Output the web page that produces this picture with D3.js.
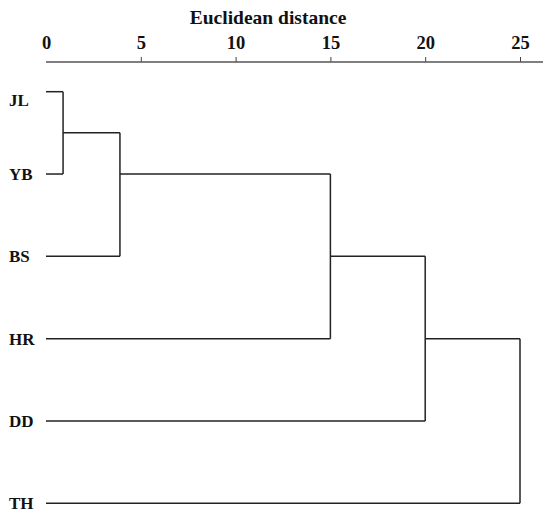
<!DOCTYPE html>
<html>
<head>
<meta charset="utf-8">
<script src="https://cdn.jsdelivr.net/npm/d3@7"></script>
<style>
  body { margin: 0; background: #fff; }
  text { font-family: "Liberation Serif", "Times New Roman", serif; font-weight: bold; fill: #111; }
</style>
</head>
<body>
<div id="wrapper"></div>
<script>
// leaves, top to bottom
const leafLabels = ["JL", "YB", "BS", "HR", "DD", "TH"];
// agglomeration schedule: node ids 0-5 are leaves, 6+ are the clusters made by each step
const mergeLeft = [0, 6, 7, 8, 9];
const mergeRight = [1, 2, 3, 4, 5];
const mergeDist = [0.9, 3.9, 15, 20, 25];
const xTicks = [0, 5, 10, 15, 20, 25];

function buildPlot() {
    const dimension = { width: 550, height: 518 };

    const svg = d3.select("#wrapper").append("svg")
        .attr("width", dimension.width)
        .attr("height", dimension.height);

    const xScaler = d3.scaleLinear()
        .domain([0, 25])
        .range([46, 520]);

    const yScaler = d3.scaleLinear()
        .domain([0, leafLabels.length - 1])
        .range([91.7, 503.3]);

    // title
    svg.append("text")
        .attr("x", 268)
        .attr("y", 23.5)
        .attr("text-anchor", "middle")
        .style("font-size", "19.5px")
        .text("Euclidean distance");

    // axis
    const xAxis = d3.axisTop(xScaler)
        .tickValues(xTicks)
        .tickSize(5)
        .tickSizeOuter(0)
        .tickPadding(8);

    const axisG = svg.append("g")
        .attr("transform", "translate(0,62)")
        .call(xAxis);
    axisG.select(".domain").remove();
    axisG.selectAll(".tick line").attr("stroke", "#444");
    axisG.selectAll(".tick").filter(d => d === 0).select("line").remove();
    axisG.selectAll(".tick text")
        .style("font-size", "18.5px")
        .style("font-family", "'Liberation Serif', serif")
        .style("font-weight", "bold")
        .attr("fill", "#111");
    axisG.append("line")
        .attr("x1", xScaler(0))
        .attr("x2", dimension.width - 7)
        .attr("stroke", "#555")
        .attr("stroke-width", 1.5);

    // node rows and heights
    const nodeRow = leafLabels.map((d, i) => i);
    const nodeDist = leafLabels.map(() => 0);
    const parentDist = [];
    mergeLeft.forEach((l, k) => {
        const r = mergeRight[k];
        nodeRow.push(Math.floor(nodeRow[l] + nodeRow[r]) / 2);
        nodeDist.push(mergeDist[k]);
        parentDist[l] = mergeDist[k];
        parentDist[r] = mergeDist[k];
    });

    const lines = svg.append("g")
        .attr("fill", "none")
        .attr("stroke", "#222")
        .attr("stroke-width", 1.5);

    // horizontal branches
    nodeRow.forEach((row, id) => {
        if (parentDist[id] === undefined) return;
        lines.append("line")
            .attr("x1", xScaler(nodeDist[id]))
            .attr("x2", xScaler(parentDist[id]))
            .attr("y1", yScaler(row))
            .attr("y2", yScaler(row));
    });

    // vertical joins
    mergeLeft.forEach((l, k) => {
        const r = mergeRight[k];
        lines.append("line")
            .attr("x1", xScaler(mergeDist[k]))
            .attr("x2", xScaler(mergeDist[k]))
            .attr("y1", yScaler(nodeRow[l]))
            .attr("y2", yScaler(nodeRow[r]));
    });

    // leaf labels (the top one sits a little below its branch in the original)
    svg.append("g")
        .selectAll("text")
        .data(leafLabels)
        .join("text")
        .attr("x", 9)
        .attr("y", (d, i) => yScaler(i) + (i === 0 ? 8 : 0))
        .attr("dy", "0.35em")
        .style("font-size", "17px")
        .text(d => d);
}

buildPlot();
</script>
</body>
</html>
